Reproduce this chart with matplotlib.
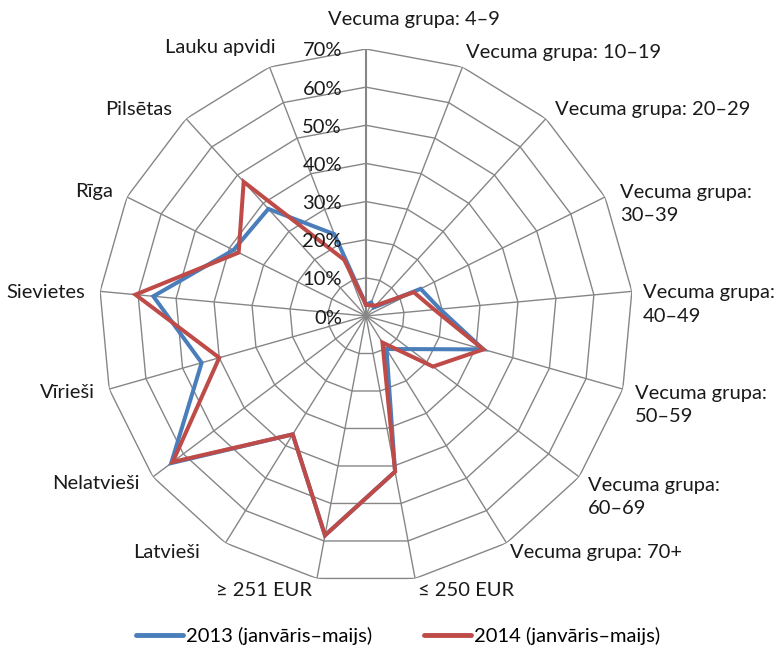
import numpy as np
import matplotlib
matplotlib.use("Agg")
import matplotlib.pyplot as plt
from matplotlib.lines import Line2D

plt.rcParams['font.family'] = ['Lato', 'DejaVu Sans']

categories = ["Vecuma grupa: 4–9", "Vecuma grupa: 10–19", "Vecuma grupa: 20–29",
              "Vecuma grupa:\n30–39", "Vecuma grupa:\n40–49", "Vecuma grupa:\n50–59",
              "Vecuma grupa:\n60–69", "Vecuma grupa: 70+", "≤ 250 EUR", "≥ 251 EUR",
              "Latvieši", "Nelatvieši", "Vīrieši", "Sievietes", "Rīga", "Pilsētas",
              "Lauku apvidi"]
values_2013 = [3, 3.8, 3, 16, 19.5, 32, 14.4, 10.2, 41.5, 58.5, 36.5, 64, 44.8, 56, 38.8, 38, 23]
values_2014 = [3, 3, 3.7, 14, 18, 32, 22, 8.2, 41.5, 58.5, 36.5, 63.5, 40, 60.7, 37.3, 47.6, 15.8]
series_names = ["2013 (janvāris–maijs)", "2014 (janvāris–maijs)"]
ring_values = [0, 10, 20, 30, 40, 50, 60, 70]
ring_labels = ["0%", "10%", "20%", "30%", "40%", "50%", "60%", "70%"]

BLUE = "#4A7EBB"
RED = "#BE4B48"
GRID = "#868686"
TEXT = "#1a1a1a"
FS = 14.5

W, H = 779, 648
fig = plt.figure(figsize=(W / 100, H / 100), dpi=100)
cx, cy, R = 366, 316, 267
ax = fig.add_axes([(cx - R) / W, (H - cy - R) / H, 2 * R / W, 2 * R / H], projection='polar')
ax.set_theta_zero_location('N')
ax.set_theta_direction(-1)
ax.set_ylim(0, 70)
ax.grid(False)
ax.set_xticks([])
ax.set_yticks([])
ax.spines['polar'].set_visible(False)
ax.patch.set_alpha(0)

n = len(categories)
theta = np.arange(n) * 2 * np.pi / n
theta_c = np.append(theta, theta[0])

for r in ring_values[1:]:
    ax.plot(theta_c, [r] * (n + 1), color=GRID, lw=1.0, zorder=1)
for i, t in enumerate(theta):
    ax.plot([t, t], [0, 70], color=GRID, lw=1.5 if i == 0 else 1.0, zorder=1)

for vals, col in [(values_2013, BLUE), (values_2014, RED)]:
    v = np.append(vals, vals[0])
    ax.plot(theta_c, v, color=col, lw=2.9, solid_joinstyle='miter', zorder=3)

for r, lab in zip(ring_values, ring_labels):
    ax.annotate(lab, xy=(0, r), xytext=(-24, -2), textcoords='offset pixels',
                ha='right', va='center', fontsize=FS, color=TEXT)

# label offsets (pixels) and alignment
offsets = [(48, 29, 'center'), (4, 15, 'left'), (9, 9, 'left'), (15, -7, 'left'),
           (11, -13, 'left'), (12, -16, 'left'), (9, -20, 'left'), (3, -9, 'left'),
           (3, -12, 'left'), (-5, -12, 'right'), (-25, -9, 'right'), (-13, -7, 'right'),
           (-14, -3, 'right'), (-15, -1, 'right'), (-14, 5, 'right'), (-14, 9, 'right'),
           (6, 20, 'right')]
for t, lab, (dx, dy, ha) in zip(theta, categories, offsets):
    ax.annotate(lab, xy=(t, 70), xytext=(dx, dy), textcoords='offset pixels',
                ha=ha, va='center', multialignment='left', fontsize=FS,
                color=TEXT, linespacing=1.45)

handles = [Line2D([0], [0], color=BLUE, lw=3.5, solid_capstyle='round'),
           Line2D([0], [0], color=RED, lw=3.5, solid_capstyle='round')]
fig.legend(handles, series_names, loc='center', bbox_to_anchor=(398 / W, 1 - 636 / H),
           ncol=2, frameon=False, fontsize=FS, handlelength=2.3, handletextpad=0.15,
           columnspacing=2.6)

fig.savefig("out.png", dpi=100)
